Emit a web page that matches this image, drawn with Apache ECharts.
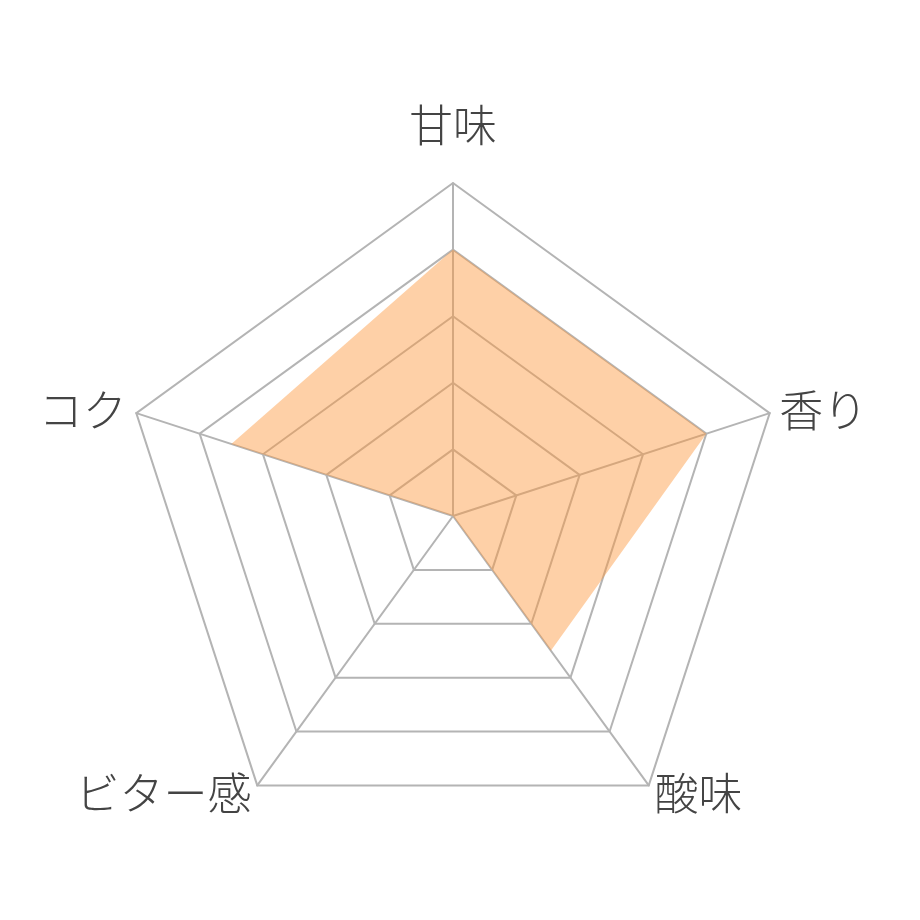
<!DOCTYPE html>
<html lang="ja">
<head>
    <meta charset="UTF-8">
    <title>Radar</title>
    <script src="https://cdn.jsdelivr.net/npm/echarts@6/dist/echarts.min.js"></script>
    <style>
        html, body { margin: 0; padding: 0; background: #fff; }
    </style>
</head>
<body>
<div id="main" style="width: 920px;height:920px;"></div>
<script type="text/javascript">
    // 軸の名前と値（上から時計回り）
    var axisNames = ['甘味', '香り', '酸味', 'ビター感', 'コク'];
    var axisMax = 5;
    var tasteValues = [4, 4, 2.5, 0, 3.5];

    var myChart = echarts.init(document.getElementById('main'));

    // EChartsのレーダーは反時計回りなので、先頭以外を逆順にする
    var order = [0, 4, 3, 2, 1];
    var indicator = [];
    var values = [];
    for (var i = 0; i < order.length; i++) {
        indicator.push({ name: axisNames[order[i]], min: 0, max: axisMax });
        values.push(tasteValues[order[i]]);
    }

    var option = {
        backgroundColor: '#fff',
        animation: false,
        radar: {
            center: [453, 516],
            radius: 333,
            startAngle: 90,
            splitNumber: 5,
            shape: 'polygon',
            indicator: indicator,
            nameGap: 10,
            axisName: {
                color: '#444',
                fontSize: 44,
                fontFamily: 'Noto Sans CJK JP',
                fontWeight: 300,
                formatter: function (name) {
                    return name === axisNames[0] ? '{top|' + name + '}' : name;
                },
                rich: {
                    top: {
                        color: '#444',
                        fontSize: 44,
                        fontFamily: 'Noto Sans CJK JP',
                        fontWeight: 300,
                        padding: [0, 0, 26, 0]
                    }
                }
            },
            axisLine: { lineStyle: { color: '#b4b4b4', width: 2 } },
            splitLine: { lineStyle: { color: '#b4b4b4', width: 2 } },
            splitArea: { show: false }
        },
        series: [{
            type: 'radar',
            symbol: 'none',
            lineStyle: { width: 0, opacity: 0 },
            areaStyle: { color: 'rgba(253,150,60,0.45)', opacity: 1 },
            data: [{ value: values }]
        }]
    };

    myChart.setOption(option);
</script>
</body>
</html>
